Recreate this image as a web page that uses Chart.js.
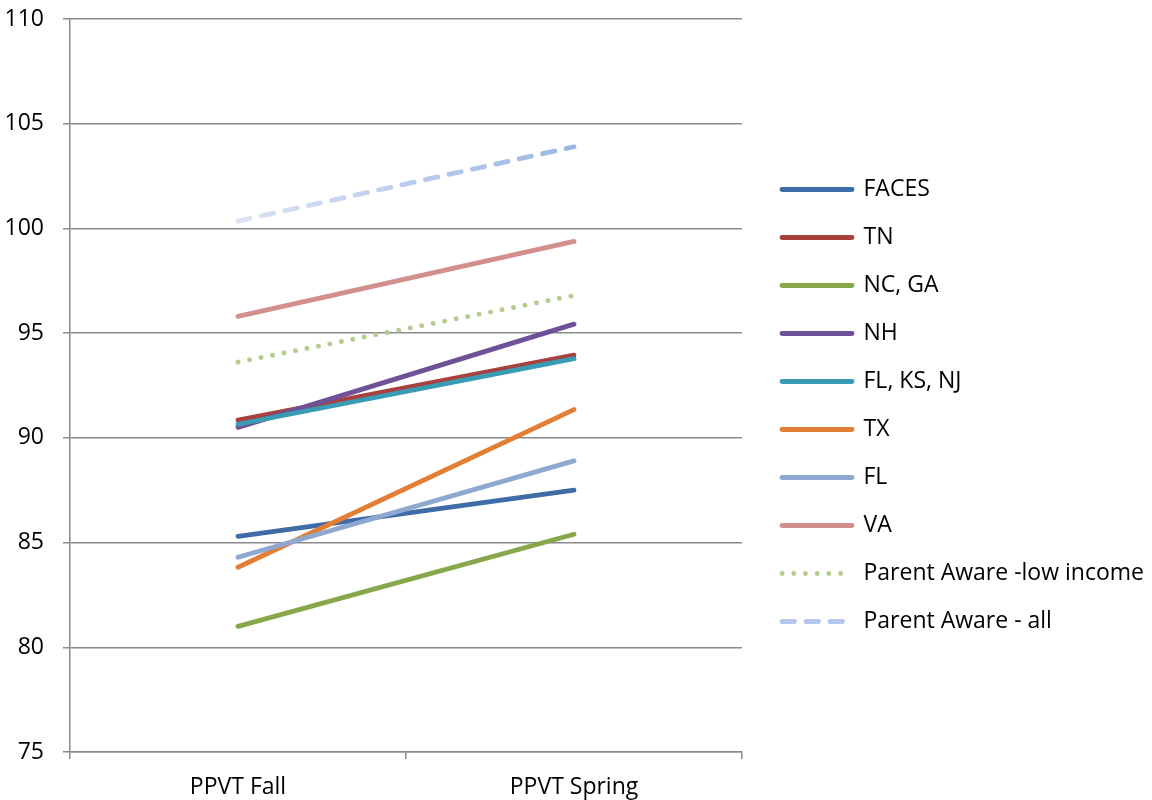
<!DOCTYPE html>
<html>
<head>
<meta charset="utf-8">
<script src="https://cdn.jsdelivr.net/npm/chart.js@4.4.1/dist/chart.umd.min.js"></script>
<style>
  html, body { margin: 0; padding: 0; background: #fff; }
  #wrap { width: 1152px; height: 800px; }
</style>
</head>
<body>
<div id="wrap"><canvas id="ppvtChart"></canvas></div>
<script>
// data
var categories = ["PPVT Fall", "PPVT Spring"];
var yTicks = [75, 80, 85, 90, 95, 100, 105, 110];

var faces = [85.3, 87.5];
var tn = [90.85, 93.95];
var ncGa = [81.0, 85.4];
var nh = [90.5, 95.43];
var flKsNj = [90.65, 93.78];
var tx = [83.82, 91.35];
var fl = [84.3, 88.9];
var va = [95.8, 99.38];
var paLowIncome = [93.62, 96.8];
var paAll = [100.35, 103.9];

var names = ["FACES", "TN", "NC, GA", "NH", "FL, KS, NJ", "TX", "FL", "VA",
  "Parent Aware -low income", "Parent Aware - all"];
var values = [faces, tn, ncGa, nh, flKsNj, tx, fl, va, paLowIncome, paAll];
var colors = ["#3e6ca7", "#a8403d", "#87a84a", "#6e5196", "#3a9cb4",
  "#e27f35", "#8fa8d1", "#d38f8e", "#b3cc8f", "#b4c7ec"];
var dashes = [[], [], [], [], [], [], [], [], [0.1, 11.6], [12.5, 11.5]];

var gridColor = "#8a8a8a";
var fontFamily = "'Open Sans', sans-serif";
var lineW = 4.8;

// light -> darker blue for the "all" line
function blueGradient(c, x0, x1) {
  var g = c.createLinearGradient(x0, 0, x1, 0);
  g.addColorStop(0, "#dbe3f3");
  g.addColorStop(1, "#9bb6e4");
  return g;
}

function allColor(ctx) {
  var chart = ctx.chart;
  if (!chart.chartArea || !chart.scales.x) return colors[9];
  return blueGradient(chart.ctx, chart.scales.x.getPixelForValue(0), chart.scales.x.getPixelForValue(1));
}

var datasets = names.map(function (name, i) {
  return {
    label: name,
    data: values[i],
    borderColor: i == 9 ? allColor : colors[i],
    backgroundColor: colors[i],
    borderWidth: lineW,
    borderDash: dashes[i],
    borderCapStyle: "round",
    pointRadius: 0,
    fill: false,
    order: names.length - i   // later series on top, like the original
  };
});

// pin the plot area and legend to where they sit in the original
var fixLayout = {
  id: "fixLayout",
  beforeInit: function (chart) {
    var legend = chart.legend;
    var fit = legend.fit;
    legend.fit = function () {
      fit.call(this);
      this.width = 410;
    };
  },
  afterLayout: function (chart) {
    var legend = chart.legend;
    legend.left += 15;
    var x0 = legend.left + legend.options.labels.padding;
    var item = legend.legendItems[9];
    if (item) item.strokeStyle = blueGradient(chart.ctx, x0, x0 + 70);
  }
};

var ctx = document.getElementById("ppvtChart").getContext("2d");
var myChart = new Chart(ctx, {
  type: "line",
  data: {
    labels: categories,
    datasets: datasets
  },
  plugins: [fixLayout],
  options: {
    responsive: true,
    maintainAspectRatio: false,
    animation: false,
    layout: { padding: { top: 11, left: 0, right: 0, bottom: 0 } },
    plugins: {
      tooltip: { enabled: false },
      legend: {
        position: "right",
        align: "center",
        labels: {
          usePointStyle: true,
          pointStyle: "line",
          pointStyleWidth: 70,
          boxHeight: 22,
          padding: 25,
          color: "#000",
          font: { family: fontFamily, size: 23 },
          sort: function (a, b) { return a.datasetIndex - b.datasetIndex; },
          generateLabels: function (chart) {
            var items = Chart.defaults.plugins.legend.labels.generateLabels(chart);
            items.forEach(function (it) {
              var i = it.datasetIndex;
              it.lineDash = dashes[i];
              it.lineCap = "round";
              it.lineWidth = lineW;
              it.strokeStyle = colors[i];
            });
            return items;
          }
        }
      }
    },
    scales: {
      x: {
        offset: true,
        afterFit: function (scale) { scale.height = 48; },
        grid: {
          offset: true,
          drawOnChartArea: false,
          drawTicks: true,
          tickLength: 7,
          color: gridColor,
          lineWidth: 1.5
        },
        border: { color: gridColor, width: 1.5 },
        ticks: {
          color: "#000",
          padding: 15,
          maxRotation: 0,
          font: { family: fontFamily, size: 23 }
        }
      },
      y: {
        min: yTicks[0],
        max: yTicks[yTicks.length - 1],
        afterFit: function (scale) {
          scale.width = 70;
          scale.paddingTop = 19;
          scale.paddingBottom = 0;
        },
        afterBuildTicks: function (scale) {
          scale.ticks = yTicks.map(function (v) { return { value: v }; });
        },
        grid: {
          color: gridColor,
          lineWidth: 1.5,
          tickLength: 7
        },
        border: { color: gridColor, width: 1.5 },
        ticks: {
          color: "#000",
          padding: 19,
          font: { family: fontFamily, size: 23 }
        }
      }
    }
  }
});
</script>
</body>
</html>
